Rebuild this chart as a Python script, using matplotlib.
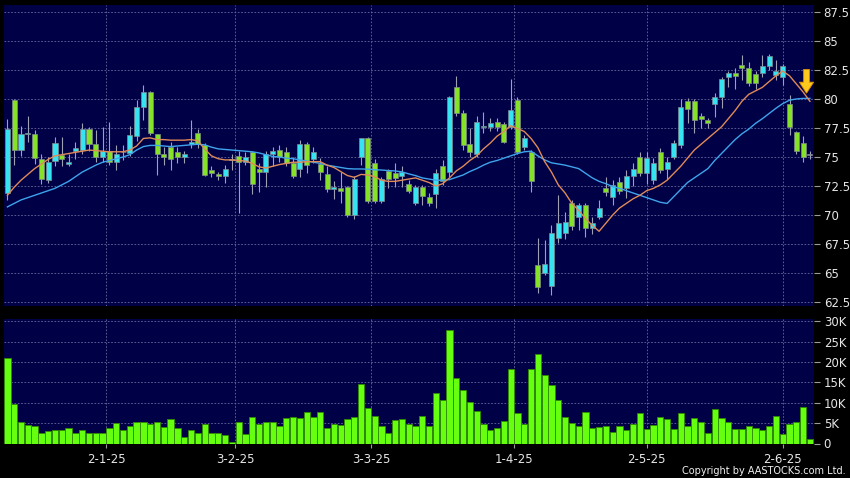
import matplotlib
matplotlib.use("Agg")
import matplotlib.pyplot as plt
import numpy as np

# ---------------------------------------------------------------------------
# Data
# ---------------------------------------------------------------------------

opens = [71.9, 79.9, 75.6, 76.95, 76.95, 74.8, 73.0, 74.65, 75.2, 74.4,
         75.55, 75.6, 77.4, 76.1, 75.0, 75.5, 74.6, 75.4, 75.35, 76.8,
         79.28, 80.63, 76.95, 75.3, 75.85, 75.45, 75.0, 76.1, 77.04, 76.05,
         73.85, 73.55, 73.35, 74.75, 75.1, 74.6, 75.46, 74.0, 73.68, 75.3,
         75.6, 75.46, 74.45, 74.0, 76.1, 74.86, 74.4, 73.53, 72.2, 72.3,
         72.42, 70.02, 74.97, 76.61, 74.45, 71.24, 73.82, 73.6, 73.36, 72.64,
         71.05, 72.4, 71.52, 71.78, 74.22, 73.74, 81.0, 78.76, 76.1, 75.23,
         77.55, 77.56, 78.05, 77.82, 77.62, 79.9, 75.9, 75.46, 65.7, 64.97,
         63.9, 68.0, 68.48, 71.0, 69.86, 70.83, 68.85, 69.86, 72.3, 71.58,
         72.87, 72.3, 73.36, 74.97, 73.59, 73.0, 75.46, 73.94, 74.97, 76.03,
         79.83, 79.85, 78.53, 78.2, 79.54, 80.2, 81.93, 82.2, 82.93, 82.64,
         82.15, 82.21, 82.87, 82.07, 81.87, 79.54, 77.13, 76.18, 75.17]
highs = [78.3, 80.0, 77.7, 78.5, 77.3, 75.3, 75.0, 76.7, 76.75, 75.3,
         76.3, 77.9, 77.6, 77.3, 77.6, 78.05, 76.0, 76.0, 77.7, 79.9,
         81.2, 80.7, 77.0, 75.9, 76.3, 75.9, 75.5, 78.2, 77.4, 76.2,
         74.25, 73.7, 74.3, 75.3, 75.5, 75.4, 75.5, 74.5, 75.55, 75.9,
         76.0, 75.9, 75.0, 76.5, 76.3, 75.9, 74.9, 74.2, 72.9, 73.7,
         72.5, 73.36, 76.61, 76.7, 74.8, 73.3, 74.0, 74.45, 74.2, 73.0,
         72.6, 72.6, 71.87, 74.0, 74.74, 80.3, 82.0, 79.05, 77.47, 78.5,
         78.9, 78.33, 78.33, 78.05, 81.7, 80.2, 76.9, 75.6, 68.0, 67.84,
         69.1, 71.7, 70.3, 71.3, 71.0, 71.0, 69.86, 71.3, 73.3, 73.0,
         73.3, 73.9, 74.45, 75.46, 75.46, 74.9, 75.75, 75.0, 76.5, 79.97,
         80.1, 80.0, 78.76, 78.33, 80.5, 81.9, 82.44, 82.64, 83.8, 83.2,
         82.4, 83.8, 83.9, 83.4, 83.0, 80.34, 77.2, 76.8, 75.55]
lows = [71.3, 74.3, 75.1, 76.3, 74.4, 72.7, 72.8, 74.2, 74.2, 74.25,
        74.8, 75.3, 75.5, 74.6, 74.6, 74.3, 73.9, 74.7, 75.1, 76.4,
        78.2, 76.9, 73.45, 74.3, 73.9, 74.45, 74.5, 75.75, 75.8, 73.35,
        73.3, 73.0, 72.8, 73.9, 70.2, 74.3, 71.8, 72.0, 72.44, 74.2,
        74.6, 74.2, 73.2, 73.3, 73.6, 74.5, 73.0, 72.0, 71.35, 71.06,
        69.85, 69.7, 74.3, 71.0, 71.0, 71.0, 72.3, 72.4, 72.44, 71.9,
        70.86, 70.9, 70.78, 70.57, 72.6, 73.3, 78.5, 75.6, 75.03, 75.0,
        77.04, 77.2, 77.2, 76.2, 77.4, 75.3, 75.6, 72.0, 63.25, 64.8,
        63.1, 67.56, 67.9, 68.7, 68.7, 68.13, 68.4, 69.7, 71.6, 70.9,
        71.8, 71.5, 72.5, 73.4, 72.64, 72.7, 73.6, 73.1, 74.8, 75.8,
        77.9, 77.04, 77.47, 77.5, 78.47, 79.2, 81.0, 80.9, 81.64, 81.1,
        80.83, 81.9, 82.5, 81.6, 81.2, 76.9, 75.3, 74.6, 74.8]
closes = [77.4, 75.6, 77.0, 77.1, 74.9, 73.1, 74.6, 76.2, 74.8, 74.6,
          75.8, 77.45, 76.1, 75.0, 75.5, 74.6, 75.3, 75.4, 76.9, 79.28,
          80.63, 77.04, 75.3, 75.0, 74.8, 74.97, 75.3, 76.3, 76.1, 73.42,
          73.6, 73.35, 73.94, 74.8, 74.55, 75.0, 72.64, 73.68, 75.26, 75.5,
          74.97, 74.5, 73.38, 76.1, 74.3, 75.4, 73.74, 72.2, 72.42, 72.1,
          70.02, 73.14, 76.6, 71.2, 71.2, 73.07, 73.1, 73.16, 73.74, 72.05,
          72.42, 71.6, 71.0, 73.6, 72.95, 80.2, 78.76, 76.05, 75.46, 78.05,
          77.65, 77.9, 77.56, 76.32, 79.05, 75.46, 76.6, 72.95, 63.77, 65.75,
          68.48, 69.28, 69.43, 69.06, 70.83, 68.85, 69.35, 70.57, 72.0, 72.6,
          72.05, 73.36, 73.94, 73.59, 74.88, 74.45, 73.88, 74.6, 76.18, 79.28,
          79.1, 78.19, 78.25, 77.9, 80.2, 81.72, 82.2, 82.0, 82.64, 81.35,
          81.35, 82.84, 83.7, 82.44, 82.87, 77.62, 75.55, 74.97, 75.17]

# 10-day (orange) and 20-day (blue) moving averages as drawn on the chart
ma_short = [71.7, 72.4, 73.0, 73.5, 74.0, 74.4, 74.8, 75.1, 75.2, 75.3,
            75.4, 75.5, 75.6, 75.55, 75.5, 75.45, 75.45, 75.45, 75.6, 75.95,
            76.6, 76.65, 76.5, 76.5, 76.45, 76.45, 76.45, 76.5, 76.4, 75.7,
            75.1, 74.85, 74.75, 74.75, 74.7, 74.65, 74.45, 74.15, 74.05, 74.2,
            74.35, 74.45, 74.55, 74.55, 74.6, 74.6, 74.6, 74.3, 74.1, 73.75,
            73.4, 73.25, 73.5, 73.45, 73.3, 73.0, 72.9, 72.9, 73.0, 73.1,
            73.2, 73.0, 72.8, 72.5, 72.7, 73.2, 73.8, 74.2, 74.7, 75.1,
            75.7, 76.2, 76.8, 77.2, 77.7, 77.45, 77.2, 76.6, 75.8, 74.6,
            73.7, 72.6, 71.9, 71.0, 70.4, 69.7, 69.1, 68.6, 69.3, 70.0,
            70.6, 71.0, 71.4, 71.7, 72.1, 72.3, 72.6, 73.0, 73.6, 74.2,
            74.9, 75.6, 76.1, 76.6, 77.1, 77.6, 78.3, 79.0, 79.8, 80.4,
            80.7, 81.0, 81.5, 82.0, 82.4, 82.0, 81.3, 80.6, 79.8]
ma_long = [70.7, 71.0, 71.3, 71.5, 71.7, 71.9, 72.1, 72.3, 72.6, 72.9,
           73.3, 73.7, 74.0, 74.3, 74.55, 74.7, 74.85, 75.0, 75.2, 75.6,
           75.9, 76.0, 76.0, 75.95, 75.9, 75.95, 76.0, 76.05, 76.1, 76.05,
           75.85, 75.7, 75.65, 75.6, 75.55, 75.5, 75.45, 75.35, 75.2, 75.05,
           75.0, 74.9, 74.85, 74.75, 74.65, 74.55, 74.45, 74.3, 74.2, 74.1,
           74.0, 73.97, 73.97, 73.95, 73.9, 73.88, 73.83, 73.8, 73.72, 73.55,
           73.4, 73.2, 73.1, 73.0, 73.0, 73.05, 73.25, 73.45, 73.75, 74.0,
           74.3, 74.55, 74.7, 74.9, 75.1, 75.3, 75.45, 75.5, 75.1, 74.75,
           74.5, 74.4, 74.3, 74.15, 74.0, 73.6, 73.2, 72.9, 72.7, 72.45,
           72.3, 72.1, 71.9, 71.7, 71.5, 71.3, 71.1, 71.0, 71.6, 72.2,
           72.8, 73.2, 73.6, 74.0, 74.7, 75.3, 75.9, 76.5, 77.0, 77.4,
           77.9, 78.3, 78.75, 79.2, 79.6, 79.9, 80.0, 80.05, 80.05]

# volume in thousands of shares
volume_k = [21.1, 9.7, 5.3, 4.6, 4.3, 2.5, 3.1, 3.4, 3.4, 3.8,
            2.7, 3.2, 2.5, 2.7, 2.5, 3.9, 5.1, 3.4, 4.2, 5.4,
            5.3, 4.7, 5.2, 4.0, 6.0, 3.8, 1.5, 3.4, 2.5, 4.8,
            2.5, 2.6, 2.2, 0.3, 5.2, 2.3, 6.4, 4.8, 5.4, 5.4,
            4.2, 6.3, 6.6, 6.2, 7.8, 6.6, 7.8, 3.9, 4.7, 4.6,
            6.1, 6.6, 14.7, 8.7, 6.8, 4.2, 2.7, 5.7, 6.0, 4.8,
            4.2, 6.8, 4.4, 12.5, 10.6, 27.8, 16.2, 13.1, 10.3, 7.9,
            4.7, 3.2, 3.7, 5.5, 18.4, 7.5, 4.9, 18.4, 22.1, 16.9,
            14.3, 10.8, 6.6, 5.0, 4.3, 7.8, 3.7, 4.1, 4.3, 2.9,
            4.4, 3.2, 4.7, 7.6, 3.6, 4.6, 6.5, 5.9, 3.5, 7.6,
            4.2, 6.3, 5.4, 2.7, 8.6, 6.3, 5.2, 3.6, 3.6, 4.3,
            3.7, 3.4, 4.3, 6.8, 2.3, 4.7, 5.4, 9.0, 1.2]

date_tick_pos = [14.5, 33.5, 53.5, 74.5, 94, 114]
date_tick_labels = ["2-1-25", "3-2-25", "3-3-25", "1-4-25", "2-5-25", "2-6-25"]
price_ticks = [62.5, 65, 67.5, 70, 72.5, 75, 77.5, 80, 82.5, 85, 87.5]
volume_ticks = [0, 5, 10, 15, 20, 25, 30]

# ---------------------------------------------------------------------------
# Style
# ---------------------------------------------------------------------------

BG = "#000000"
PANEL = "#000046"
GRID = "#6a6aa0"
TEXT = "#e6e6e6"
UP = "#35e4f0"
DOWN = "#86e226"
FLAT = "#a8a8b0"
WICK = "#a0a0b4"
VOL = "#66ff10"
VOL_EDGE = "#2f8a00"
MA_SHORT = "#e08a58"
MA_LONG = "#3ea4ec"

W, H = 850, 478


def px_rect(left, top, right, bottom):
    """Axes rect in figure fractions from pixel edges."""
    return [left / W, 1 - bottom / H, (right - left) / W, (bottom - top) / H]


def style_panel(ax, xlim):
    ax.set_facecolor(PANEL)
    ax.set_xlim(*xlim)
    for s in ax.spines.values():
        s.set_visible(False)
    ax.yaxis.tick_right()
    ax.tick_params(axis="y", colors=TEXT, labelsize=8.5, length=4,
                   width=0.8, pad=3, direction="out")
    ax.tick_params(axis="y", which="major", color="#9a9a9a")
    ax.grid(True, color=GRID, linestyle=(0, (2, 2)), linewidth=0.6)
    ax.set_axisbelow(True)


fig = plt.figure(figsize=(W / 100, H / 100), dpi=100, facecolor=BG)
ax_p = fig.add_axes(px_rect(4, 5, 814, 306))
ax_v = fig.add_axes(px_rect(4, 319, 814, 443.5))

x = np.arange(len(closes))
xlim = (-0.5, 118.6)
o = np.array(opens)
c = np.array(closes)

# --- price panel -----------------------------------------------------------
style_panel(ax_p, xlim)
ax_p.set_ylim(62.16, 88.1)
ax_p.set_yticks(price_ticks)
ax_p.set_yticklabels([f"{t:g}" for t in price_ticks])
ax_p.set_xticks(date_tick_pos)
ax_p.tick_params(axis="x", length=0, labelbottom=False)

colors = [UP if cc > oo else DOWN if cc < oo else FLAT for oo, cc in zip(o, c)]
ax_p.vlines(x, lows, highs, color=WICK, linewidth=0.8, zorder=2)
body = np.maximum(np.abs(c - o), 0.07)
ax_p.bar(x, body, bottom=np.minimum(o, c), width=0.74, color=colors,
         edgecolor="#7f8a8f", linewidth=0.5, zorder=3)

ax_p.plot(x, ma_long, color=MA_LONG, linewidth=1.0, zorder=4)
ax_p.plot(x, ma_short, color=MA_SHORT, linewidth=1.0, zorder=4)

ax_p.arrow(117.5, 82.55, 0, -2.05, width=0.85, head_width=2.1,
           head_length=0.95, length_includes_head=True,
           fc="#ffc81c", ec="#d89000", linewidth=0.6, zorder=6)

# --- volume panel ----------------------------------------------------------
style_panel(ax_v, xlim)
ax_v.set_ylim(0, 30.6)
ax_v.set_yticks(volume_ticks)
ax_v.set_yticklabels(["0"] + [f"{t}K" for t in volume_ticks[1:]])
ax_v.bar(x, volume_k, width=0.92, color=VOL, edgecolor=VOL_EDGE,
         linewidth=0.6, zorder=3)
ax_v.set_xticks(date_tick_pos)
ax_v.set_xticklabels(date_tick_labels)
ax_v.tick_params(axis="x", colors=TEXT, labelsize=8.5, length=3,
                 width=0.8, pad=4)
ax_v.tick_params(axis="x", color="#9a9a9a")

fig.text(846 / W, 1 - 474 / H, "Copyright by AASTOCKS.com Ltd.",
         ha="right", va="baseline", color="#f0f0f0", fontsize=7)

fig.savefig("out.png", dpi=100, facecolor=BG)
